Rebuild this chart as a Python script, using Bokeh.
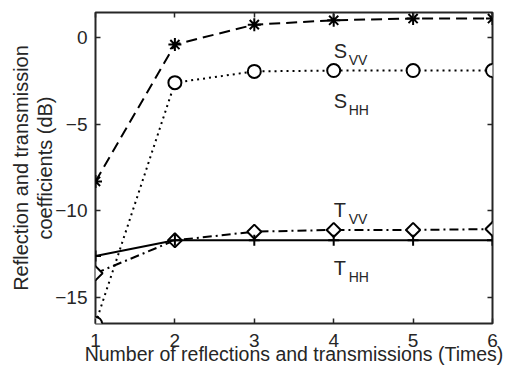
import math
from bokeh.plotting import figure
from bokeh.models import LinearAxis, FixedTicker, Range1d
from bokeh.core.properties import value
from bokeh.embed import file_html
from bokeh.resources import INLINE

times = [1, 2, 3, 4, 5, 6]
s_vv = [-8.3, -0.4, 0.75, 1.0, 1.1, 1.1]
s_hh = [-16.5, -2.6, -1.95, -1.9, -1.9, -1.9]
t_vv = [-13.6, -11.7, -11.2, -11.1, -11.1, -11.05]
t_hh = [-12.6, -11.7, -11.7, -11.7, -11.7, -11.7]
y_ticks = [-15, -10, -5, 0]

lbl_x = [4.0, 4.0, 4.0, 4.0]
lbl_y = [-0.75, -3.63, -9.95, -13.27]
lbl_main = ["S", "S", "T", "T"]
lbl_sub = ["VV", "HH", "VV", "HH"]

FONT = "Liberation Sans"
INK = "#262626"

p = figure(width=505, height=369, output_backend="svg", toolbar_location=None,
           x_range=Range1d(1, 6), y_range=Range1d(-16.5, 1.45),
           min_border_left=95, min_border_right=13, min_border_top=12, min_border_bottom=46)
p.background_fill_color = "white"
p.border_fill_color = "white"
p.outline_line_color = INK
p.outline_line_width = 2
p.grid.visible = False

for ax in [p.xaxis[0], p.yaxis[0]]:
    ax.major_tick_in = 5
    ax.major_tick_out = 0
    ax.minor_tick_line_color = None
    ax.axis_line_color = None
    ax.major_tick_line_color = INK
    ax.major_tick_line_width = 1.5
    ax.major_label_text_font = FONT
    ax.major_label_text_font_size = "19px"
    ax.major_label_text_color = INK
    ax.axis_label_text_font = FONT
    ax.axis_label_text_font_size = "20px"
    ax.axis_label_text_font_style = "normal"
    ax.axis_label_text_color = INK

p.xaxis[0].ticker = FixedTicker(ticks=times)
p.yaxis[0].ticker = FixedTicker(ticks=y_ticks)
p.xaxis[0].axis_label = "Number of reflections and transmissions (Times)"
p.xaxis[0].axis_label_text_font_size = "19.5px"
p.xaxis[0].axis_label_standoff = -7
p.xaxis[0].major_label_standoff = 10
p.yaxis[0].axis_label = "coefficients (dB)"
p.yaxis[0].axis_label_standoff = -4
p.yaxis[0].major_label_standoff = 8

# outer left axis carrying the first line of the y label
y_lab1 = LinearAxis(ticker=FixedTicker(ticks=[]), major_tick_in=0, major_tick_out=0,
                    minor_tick_line_color=None, axis_line_color=None,
                    axis_label="Reflection and transmission", axis_label_standoff=0,
                    axis_label_text_font=FONT, axis_label_text_font_size="20px",
                    axis_label_text_font_style="normal", axis_label_text_color=INK)
p.add_layout(y_lab1, "left")

r_ax = LinearAxis(ticker=FixedTicker(ticks=y_ticks), major_tick_in=5, major_tick_out=0,
                  minor_tick_line_color=None, axis_line_color=None,
                  major_label_overrides={t: "" for t in y_ticks},
                  major_tick_line_color=INK, major_tick_line_width=1.5)
t_ax = LinearAxis(ticker=FixedTicker(ticks=times), major_tick_in=5, major_tick_out=0,
                  minor_tick_line_color=None, axis_line_color=None,
                  major_label_overrides={t: "" for t in times},
                  major_tick_line_color=INK, major_tick_line_width=1.5)
p.add_layout(r_ax, "right")
p.add_layout(t_ax, "above")
p.min_border_right = 13
p.min_border_top = 12

# S_VV
p.line(times, s_vv, line_color="black", line_width=2, line_dash="11 6")
p.scatter(times, s_vv, marker="asterisk", size=13, line_color="black", line_width=2)
# S_HH
p.line(times, s_hh, line_color="black", line_width=2, line_dash="2 4")
p.scatter(times, s_hh, marker="circle", size=13, line_color="black", line_width=2, fill_color="white")
# T_VV
p.line(times, t_vv, line_color="black", line_width=2, line_dash="9 4 2 4")
p.scatter(times, t_vv, marker="square", size=10, angle=math.pi / 4, line_color="black",
          line_width=2, fill_color="white")
# T_HH
p.line(times, t_hh, line_color="black", line_width=2)
p.scatter(times, t_hh, marker="cross", size=11, line_color="black", line_width=2)

p.text(x=lbl_x, y=lbl_y, text=lbl_main, text_font=value(FONT), text_font_size="20px",
       text_color=INK, text_baseline="alphabetic", text_align="left")
p.text(x=lbl_x, y=lbl_y, text=lbl_sub, text_font=value(FONT), text_font_size="14px",
       text_color=INK, text_baseline="alphabetic", text_align="left", x_offset=15, y_offset=9)

open("out.html", "w").write(file_html(p, INLINE))
